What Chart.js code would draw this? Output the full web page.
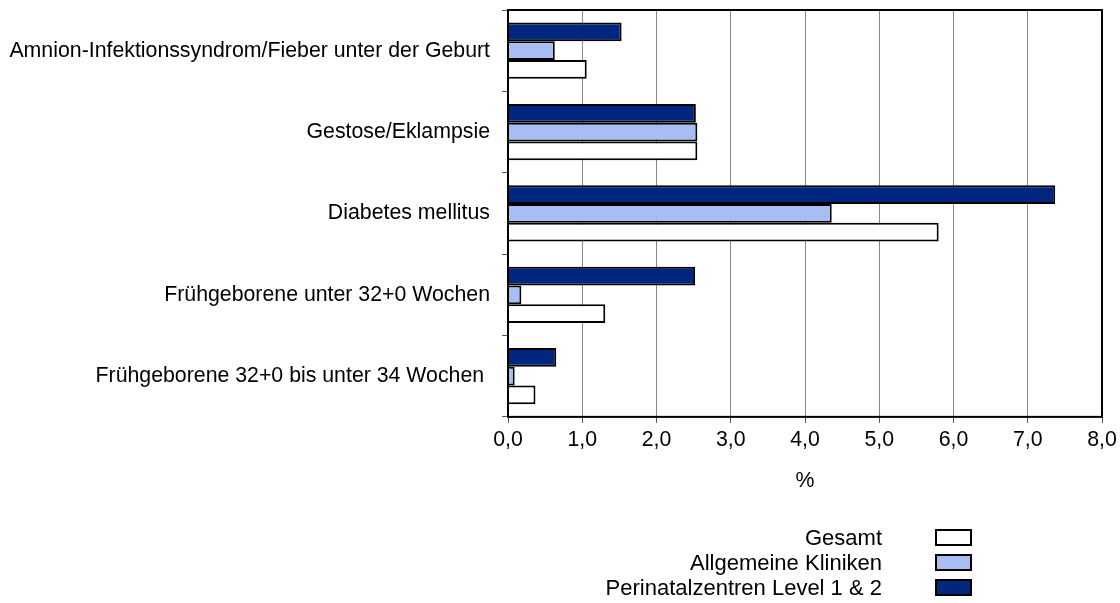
<!DOCTYPE html>
<html>
<head>
<meta charset="utf-8">
<script src="https://cdn.jsdelivr.net/npm/chart.js@4.4.1/dist/chart.umd.min.js"></script>
<style>
  body { margin: 0; background: #fff; }
  #wrap { position: relative; width: 1120px; height: 603px; }
  #legend { position: absolute; left: 0; top: 525px; width: 972px; font-family: "Liberation Sans", Arial, sans-serif; font-size: 22px; color: #000; }
  .row { display: flex; justify-content: flex-end; align-items: center; height: 25px; }
  .box { width: 33px; height: 13px; border: 2px solid #000; margin-left: 53px; }
</style>
</head>
<body>
<div id="wrap">
  <canvas id="chart" width="1120" height="603"></canvas>
  <div id="legend"></div>
</div>
<script>
const categories = [
  'Amnion-Infektionssyndrom/Fieber unter der Geburt',
  'Gestose/Eklampsie',
  'Diabetes mellitus',
  'Frühgeborene unter 32+0 Wochen',
  'Frühgeborene 32+0 bis unter 34 Wochen '
];
const seriesNames = ['Perinatalzentren Level 1 & 2', 'Allgemeine Kliniken', 'Gesamt'];
const perinatal = [1.53, 2.53, 7.37, 2.52, 0.65];
const allgemein = [0.63, 2.55, 4.36, 0.18, 0.09];
const gesamt = [1.06, 2.55, 5.80, 1.31, 0.37];
const seriesColors = ['#002680', '#a8bdf3', '#ffffff'];

const font = { family: '"Liberation Sans", Arial, sans-serif', size: 21.3 };

// frame around the plot area
const frame = {
  id: 'frame',
  afterDraw(chart) {
    const a = chart.chartArea;
    const ctx = chart.ctx;
    ctx.save();
    ctx.strokeStyle = '#000';
    ctx.lineWidth = 2;
    ctx.strokeRect(a.left, a.top, a.right - a.left, a.bottom - a.top);
    ctx.restore();
  }
};

new Chart(document.getElementById('chart'), {
  type: 'bar',
  data: {
    labels: categories,
    datasets: [perinatal, allgemein, gesamt].map((d, i) => ({
      label: seriesNames[i],
      data: d,
      backgroundColor: seriesColors[i],
      borderColor: '#000',
      borderWidth: 2,
      categoryPercentage: 0.69,
      barPercentage: 1.0
    }))
  },
  options: {
    indexAxis: 'y',
    responsive: false,
    animation: false,
    layout: { padding: { top: 10, right: 18, bottom: 109, left: 0 } },
    plugins: { legend: { display: false }, tooltip: { enabled: false } },
    scales: {
      x: {
        min: 0,
        max: 8,
        afterFit(scale) { scale.paddingLeft = 0; scale.paddingRight = 0; },
        ticks: {
          stepSize: 1,
          color: '#000',
          font: font,
          padding: 4,
          callback: v => v.toFixed(1).replace('.', ',')
        },
        grid: { color: '#888', tickLength: 6, tickColor: '#555' },
        border: { display: false },
        title: { display: true, text: '%', color: '#000', font: font, padding: { top: 12, bottom: 0 } }
      },
      y: {
        afterFit(scale) { scale.width = 508; scale.paddingTop = 0; scale.paddingBottom = 0; },
        ticks: { color: '#000', font: font, padding: 12 },
        grid: { offset: true, drawOnChartArea: false, tickLength: 6, color: '#555' },
        border: { display: false }
      }
    }
  },
  plugins: [frame]
});

// legend, listed bottom-up like the original
const legend = document.getElementById('legend');
[2, 1, 0].forEach(i => {
  const row = document.createElement('div');
  row.className = 'row';
  row.innerHTML = '<span>' + seriesNames[i] + '</span><span class="box" style="background:' + seriesColors[i] + '"></span>';
  legend.appendChild(row);
});
</script>
</body>
</html>
